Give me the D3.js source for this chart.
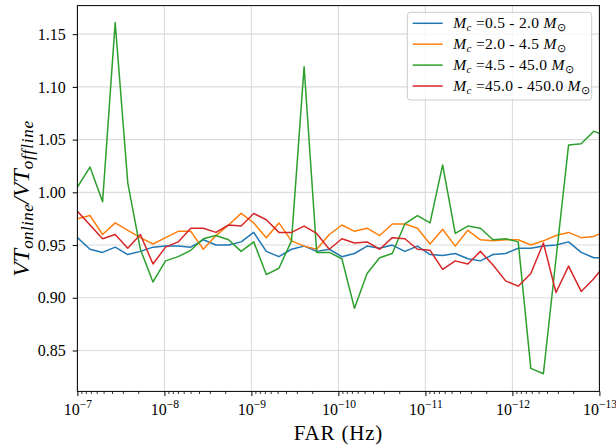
<!DOCTYPE html>
<html><head><meta charset="utf-8">
<script src="https://cdn.jsdelivr.net/npm/d3@7/dist/d3.min.js"></script>
<style>
body{margin:0;background:#fff}
svg text{font-family:"Liberation Serif","Times New Roman",serif !important;fill:#000}
</style>
</head><body>
<svg id="c" width="616" height="445" style="font-family:'Liberation Serif',serif"></svg>
<script>
// FAR values (Hz)
const far = [1.0000e-7,7.1653e-8,5.1342e-8,3.6788e-8,2.6360e-8,1.8888e-8,1.3534e-8,9.6972e-9,6.9483e-9,4.9787e-9,
  3.5674e-9,2.5561e-9,1.8316e-9,1.3124e-9,9.4036e-10,6.7379e-10,4.8279e-10,3.4594e-10,2.4788e-10,1.7761e-10,
  1.2726e-10,9.1188e-11,6.5339e-11,4.6817e-11,3.3546e-11,2.4037e-11,1.7223e-11,1.2341e-11,8.8426e-12,6.3360e-12,
  4.5400e-12,3.2530e-12,2.3309e-12,1.6702e-12,1.1967e-12,8.5749e-13,6.1442e-13,4.4025e-13,3.1545e-13,2.2603e-13,
  1.6196e-13,1.1605e-13,8.3153e-14];

const vtBlue = [0.957,0.946,0.943,0.948,0.941,0.944,0.948,0.949,0.949,0.948,
  0.955,0.950,0.950,0.953,0.962,0.944,0.939,0.946,0.949,0.944,
  0.946,0.939,0.942,0.949,0.947,0.950,0.944,0.949,0.941,0.940,
  0.942,0.937,0.935,0.941,0.942,0.947,0.947,0.949,0.950,0.953,
  0.943,0.938,0.938];
const vtOrange = [0.975,0.978,0.960,0.971,0.964,0.957,0.951,0.957,0.963,0.963,
  0.946,0.959,0.969,0.980,0.971,0.957,0.971,0.954,0.949,0.946,
  0.960,0.969,0.963,0.966,0.959,0.970,0.970,0.966,0.951,0.965,
  0.949,0.964,0.955,0.954,0.955,0.955,0.950,0.954,0.959,0.962,
  0.957,0.958,0.964];
const vtGreen = [1.005,1.024,0.991,1.161,1.009,0.946,0.915,0.935,0.939,0.945,
  0.956,0.959,0.955,0.944,0.953,0.922,0.928,0.954,1.119,0.943,
  0.943,0.937,0.890,0.923,0.938,0.942,0.970,0.978,0.971,1.026,
  0.961,0.968,0.966,0.955,0.956,0.953,0.833,0.828,0.937,1.045,
  1.046,1.058,1.053];
const vtRed = [0.982,0.969,0.956,0.960,0.947,0.960,0.932,0.948,0.953,0.966,
  0.966,0.962,0.969,0.968,0.980,0.974,0.962,0.962,0.968,0.961,
  0.946,0.956,0.952,0.953,0.946,0.957,0.956,0.946,0.945,0.927,
  0.935,0.932,0.944,0.931,0.916,0.911,0.923,0.952,0.905,0.930,
  0.906,0.918,0.933];

const seriesRanges = [["0.5","2.0"],["2.0","4.5"],["4.5","45.0"],["45.0","450.0"]];
const colors = ["#1f77b4","#ff7f0e","#2ca02c","#d62728"];
const yTicks = [0.85,0.90,0.95,1.00,1.05,1.10,1.15];
const xTicks = [1e-7,1e-8,1e-9,1e-10,1e-11,1e-12,1e-13];
const xTickExp = ["\u22127","\u22128","\u22129","\u221210","\u221211","\u221212","\u221213"];

const series = [vtBlue, vtOrange, vtGreen, vtRed];
const SERIF = '"Liberation Serif","Times New Roman",serif';

const m = {l:77.4, r:599.4, t:5.6, b:391.4};
const svg = d3.select("#c");
const x = d3.scaleLog().domain([1e-7,1e-13]).range([m.l,m.r]);
const y = d3.scaleLinear().domain([0.8112,1.1771]).range([m.b,m.t]);

svg.append("defs").append("clipPath").attr("id","clip")
  .append("rect").attr("x",m.l).attr("y",m.t).attr("width",m.r-m.l).attr("height",m.b-m.t);

// grid
const grid = svg.append("g");
grid.selectAll(".gx").data(xTicks).join("line")
  .attr("x1",d=>x(d)).attr("x2",d=>x(d)).attr("y1",m.t).attr("y2",m.b)
  .attr("stroke","#dcdcdc").attr("stroke-width",1.1);
grid.selectAll(".gy").data(yTicks).join("line")
  .attr("x1",m.l).attr("x2",m.r).attr("y1",d=>y(d)).attr("y2",d=>y(d))
  .attr("stroke","#dcdcdc").attr("stroke-width",1.1);

// lines
const line = d3.line().x((d,i)=>x(far[i])).y(d=>y(d));
const lg = svg.append("g").attr("clip-path","url(#clip)");
series.forEach((s,k)=>{
  lg.append("path").datum(s).attr("d",line).attr("fill","none")
    .attr("stroke",colors[k]).attr("stroke-width",1.5).attr("stroke-linejoin","round");
});

// axes
const minor = [];
for (let k=7;k<13;k++) for (let j=2;j<=9;j++) minor.push(j*Math.pow(10,-(k+1)));

const xAx = svg.append("g").attr("transform",`translate(0,${m.b})`)
  .call(d3.axisBottom(x).tickValues(xTicks).tickFormat("").tickSizeInner(4.7).tickSizeOuter(0));
xAx.attr("font-family",null);
xAx.select(".domain").remove();
xAx.selectAll(".tick line").attr("stroke","#000").attr("stroke-width",1);
xAx.selectAll(".tick text").remove();
xAx.selectAll(".tick").each(function(d,i){
  const t = d3.select(this).append("text").attr("y",23.5).attr("text-anchor","middle")
    .style("font-family",SERIF).style("font-size","16px").attr("fill","#000");
  t.append("tspan").text("10");
  t.append("tspan").attr("dy",-6.5).style("font-size","11.5px").text(xTickExp[i]);
});
const xMin = svg.append("g").attr("transform",`translate(0,${m.b})`)
  .call(d3.axisBottom(x).tickValues(minor).tickFormat("").tickSizeInner(2.6).tickSizeOuter(0));
xMin.select(".domain").remove();
xMin.selectAll(".tick line").attr("stroke","#000").attr("stroke-width",0.8);

const yAx = svg.append("g").attr("transform",`translate(${m.l},0)`)
  .call(d3.axisLeft(y).tickValues(yTicks).tickFormat(d3.format(".2f")).tickSizeInner(4.7).tickSizeOuter(0).tickPadding(7));
yAx.attr("font-family",null).attr("font-size",null);
yAx.select(".domain").remove();
yAx.selectAll(".tick line").attr("stroke","#000").attr("stroke-width",1);
yAx.selectAll(".tick text").style("font-size","16px").attr("fill","#000")
  .style("font-family",SERIF);

// frame
svg.append("rect").attr("x",m.l).attr("y",m.t).attr("width",m.r-m.l).attr("height",m.b-m.t)
  .attr("fill","none").attr("stroke","#000").attr("stroke-width",1);

// axis labels
svg.append("text").attr("x",(m.l+m.r)/2).attr("y",440).attr("text-anchor","middle")
  .style("font-family",SERIF).style("font-size","21px").style("letter-spacing","0.8px").text("FAR (Hz)");

const yl = svg.append("text").attr("transform",`translate(29,${(m.t+m.b)/2}) rotate(-90)`)
  .attr("text-anchor","middle").style("font-family",SERIF).style("font-style","italic").style("font-size","24px")
  .style("font-variant-ligatures","none");
yl.append("tspan").text("VT");
yl.append("tspan").attr("dy",4).style("font-size","17px").style("letter-spacing","0.4px").text("online");
yl.append("tspan").attr("dy",-4).text("/VT");
yl.append("tspan").attr("dy",4).style("font-size","17px").style("letter-spacing","0.8px").text("offline");

// legend
const leg = svg.append("g");
leg.append("rect").attr("x",407.3).attr("y",12.3).attr("width",184.4).attr("height",87.7)
  .attr("rx",3).attr("fill","#fff").attr("fill-opacity",0.8).attr("stroke","#cccccc").attr("stroke-width",1);
seriesRanges.forEach((r,k)=>{
  const cy = 23.3 + k*20.9;
  leg.append("line").attr("x1",412.7).attr("x2",442.7).attr("y1",cy).attr("y2",cy)
    .attr("stroke",colors[k]).attr("stroke-width",1.5);
  const t = leg.append("text").attr("x",453.3).attr("y",cy+5).style("font-family",SERIF).style("font-size","15.5px")
    .style("letter-spacing","0.3px");
  t.append("tspan").style("font-style","italic").text("M");
  t.append("tspan").attr("dy",3).style("font-size","11px").style("font-style","italic").text("c");
  t.append("tspan").attr("dy",-3).text(` =${r[0]} - ${r[1]} `);
  t.append("tspan").style("font-style","italic").text("M");
  t.append("tspan").attr("dy",3).style("font-size","11px").text("\u2299");
});
</script>
</body></html>
